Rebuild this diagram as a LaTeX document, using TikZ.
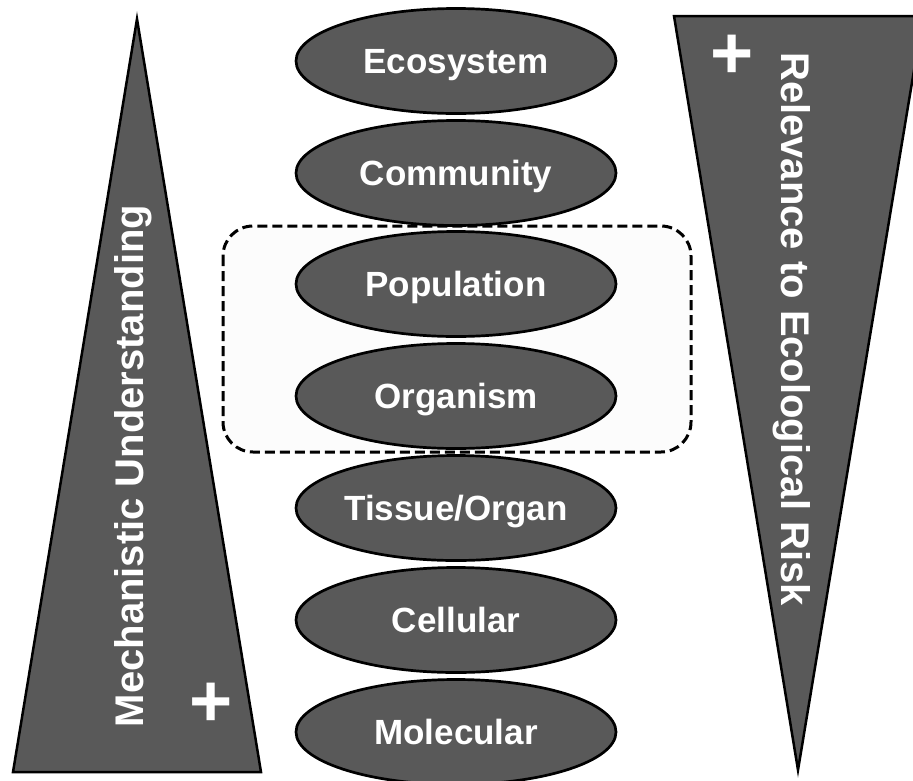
\documentclass[tikz,border=0pt]{standalone}
\usepackage{fontspec}
\setmainfont{Liberation Sans}
\usepackage{xcolor}
\usepackage{tikz}
\usetikzlibrary{shapes.geometric}
\definecolor{levelgray}{HTML}{595959}

\begin{document}
\begin{tikzpicture}[x=1pt,y=-1pt,
    level/.style={ellipse,draw=black,line width=2.7pt,fill=levelgray,minimum width=320pt,minimum height=105pt,inner sep=0pt,text=white,text height=25pt,text depth=0pt,font=\bfseries\fontsize{35}{42}\selectfont},
    wedge/.style={draw=black,line width=2.5pt,fill=levelgray},
    sidetext/.style={inner sep=0pt,text=white,font=\bfseries\fontsize{40}{48}\selectfont},
    plussign/.style={inner sep=0pt,text=white,font=\bfseries\fontsize{74}{80}\selectfont}]
      \useasboundingbox (0,0) rectangle (913,780);
      \clip (0,0) rectangle (913,780);
      % the two wedges
      \draw[wedge] (13,772) -- (261,772) -- (137,19) -- cycle;
      \draw[wedge] (674,16) -- (923,16) -- (798,770) -- cycle;
      \node[sidetext,rotate=90] (mechanistic) at (133,466) {Mechanistic Understanding};
      \node[sidetext,rotate=-90] (relevance) at (792,329) {Relevance to Ecological Risk};
      \node[plussign] (plusleft) at (211,705) {+};
      \node[plussign] (plusright) at (732,57) {+};
      % dashed frame round population and organism
      \draw[dashed,dash pattern=on 10pt off 5pt,line width=3pt,rounded corners=30pt,fill=black!1] (223,226) rectangle (691,452);
      % levels of organisation
      \node[level] (ecosystem) at (456,61) {Ecosystem};
      \node[level] (community) at (456,173) {Community};
      \node[level] (population) at (456,284) {Population};
      \node[level] (organism) at (456,396) {Organism};
      \node[level] (tissue) at (456,508) {Tissue/Organ};
      \node[level] (cellular) at (456,620) {Cellular};
      \node[level] (molecular) at (456,732) {Molecular};
    \end{tikzpicture}
\end{document}
